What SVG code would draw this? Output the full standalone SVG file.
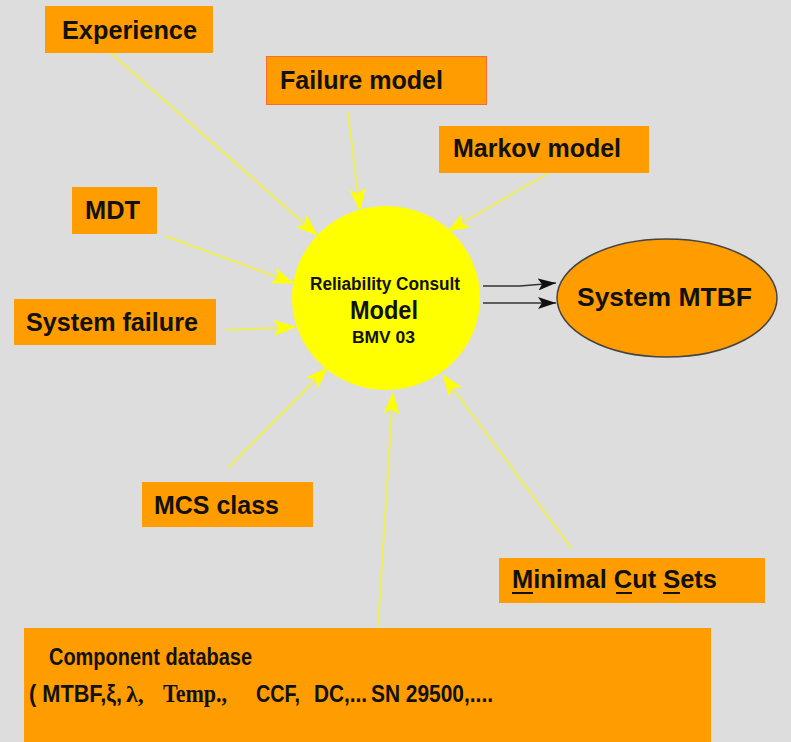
<svg xmlns="http://www.w3.org/2000/svg" width="791" height="742" viewBox="0 0 791 742">
<defs>
<style>
.box{fill:#ff9c00;}
.t{font-family:"Liberation Sans",Arial,sans-serif;font-weight:bold;font-size:25px;fill:#111;}
.c{font-family:"Liberation Sans",Arial,sans-serif;font-weight:bold;font-size:23px;fill:#111;}
.ya{stroke:#eeee55;stroke-width:2;fill:none;marker-end:url(#yh);}
.ba{stroke:#333;stroke-width:1.5;fill:none;marker-end:url(#bh);}
</style>
<marker id="yh" markerUnits="userSpaceOnUse" markerWidth="22" markerHeight="16" refX="21" refY="8" orient="auto">
<path d="M0,0 L22,8 L0,16 L5,8 z" fill="#ffff00"/>
</marker>
<marker id="bh" markerUnits="userSpaceOnUse" markerWidth="18" markerHeight="12" refX="18" refY="6" orient="auto">
<path d="M0,0 L18,6 L0,12 L4,6 z" fill="#111"/>
</marker>
</defs>
<rect x="0" y="0" width="791" height="742" fill="#dddddd"/>
<g id="connectors">
<line class="ya" x1="105" y1="48" x2="317" y2="235"/>
<line class="ya" x1="348" y1="112" x2="360" y2="210"/>
<line class="ya" x1="547" y1="174" x2="448" y2="231"/>
<line class="ya" x1="165" y1="236" x2="293" y2="283"/>
<line class="ya" x1="225" y1="330" x2="295" y2="327"/>
<line class="ya" x1="228" y1="468" x2="327" y2="368"/>
<line class="ya" x1="378" y1="626" x2="393" y2="393"/>
<line class="ya" x1="572" y1="549" x2="443" y2="375"/>
<polyline class="ba" points="483,286 520,286 556,283"/>
<line class="ba" x1="483" y1="303" x2="556" y2="303"/>
</g>
<g id="experience">
<rect class="box" x="45" y="6" width="168" height="47"/>
<text class="t" x="62" y="39" textLength="135" lengthAdjust="spacingAndGlyphs">Experience</text>
</g>
<g id="failure-model">
<rect class="box" x="266.5" y="56.5" width="220" height="48" stroke="#ff6a33" stroke-width="1"/>
<text class="t" x="280" y="89" textLength="163" lengthAdjust="spacingAndGlyphs">Failure model</text>
</g>
<g id="markov-model">
<rect class="box" x="439" y="126" width="210" height="47"/>
<text class="t" x="453" y="157" textLength="168" lengthAdjust="spacingAndGlyphs">Markov model</text>
</g>
<g id="mdt">
<rect class="box" x="72" y="187" width="85" height="47"/>
<text class="t" x="85" y="219" textLength="55" lengthAdjust="spacingAndGlyphs">MDT</text>
</g>
<g id="system-failure">
<rect class="box" x="14" y="299" width="202" height="46"/>
<text class="t" x="26" y="331" textLength="172" lengthAdjust="spacingAndGlyphs">System failure</text>
</g>
<g id="mcs-class">
<rect class="box" x="142" y="482" width="171" height="45"/>
<text class="t" x="154" y="514" textLength="125" lengthAdjust="spacingAndGlyphs">MCS class</text>
</g>
<g id="minimal-cut-sets">
<rect class="box" x="499" y="558" width="266" height="45"/>
<text class="t" x="512" y="588" textLength="205" lengthAdjust="spacingAndGlyphs">Minimal Cut Sets</text>
<line x1="512" y1="593" x2="533" y2="593" stroke="#111" stroke-width="2"/>
<line x1="616" y1="593" x2="632" y2="593" stroke="#111" stroke-width="2"/>
<line x1="663" y1="593" x2="680" y2="593" stroke="#111" stroke-width="2"/>
</g>
<g id="component-database">
<rect class="box" x="24" y="628" width="687" height="114"/>
<text class="c" x="49" y="665" textLength="203" lengthAdjust="spacingAndGlyphs">Component database</text>
<text class="c" x="29" y="702" textLength="93" lengthAdjust="spacingAndGlyphs">( MTBF,ξ,</text>
<text x="126" y="702" font-family="'Liberation Serif',serif" font-weight="bold" font-size="24" fill="#111">λ,</text>
<text x="163" y="702" font-family="'Liberation Serif',serif" font-weight="bold" font-size="25" fill="#111" textLength="64" lengthAdjust="spacingAndGlyphs">Temp.,</text>
<text class="c" x="256" y="702" textLength="44" lengthAdjust="spacingAndGlyphs">CCF,</text>
<text class="c" x="314" y="702" textLength="53" lengthAdjust="spacingAndGlyphs">DC,...</text>
<text class="c" x="371" y="702" textLength="122" lengthAdjust="spacingAndGlyphs">SN 29500,....</text>
</g>
<g id="model">
<ellipse cx="386" cy="298" rx="94" ry="92" fill="#ffff00"/>
<text x="310" y="290" font-family="'Liberation Sans',Arial,sans-serif" font-weight="bold" font-size="18" fill="#111" textLength="150" lengthAdjust="spacingAndGlyphs">Reliability Consult</text>
<text x="350" y="319" font-family="'Liberation Sans',Arial,sans-serif" font-weight="bold" font-size="25" fill="#111" textLength="68" lengthAdjust="spacingAndGlyphs">Model</text>
<text x="352" y="343" font-family="'Liberation Sans',Arial,sans-serif" font-weight="bold" font-size="16" fill="#111" textLength="63" lengthAdjust="spacingAndGlyphs">BMV 03</text>
</g>
<g id="system-mtbf">
<ellipse cx="667" cy="298" rx="110" ry="59" fill="#ff9c00" stroke="#444" stroke-width="1.5"/>
<text class="t" x="577" y="306" textLength="175" lengthAdjust="spacingAndGlyphs">System MTBF</text>
</g>
</svg>
